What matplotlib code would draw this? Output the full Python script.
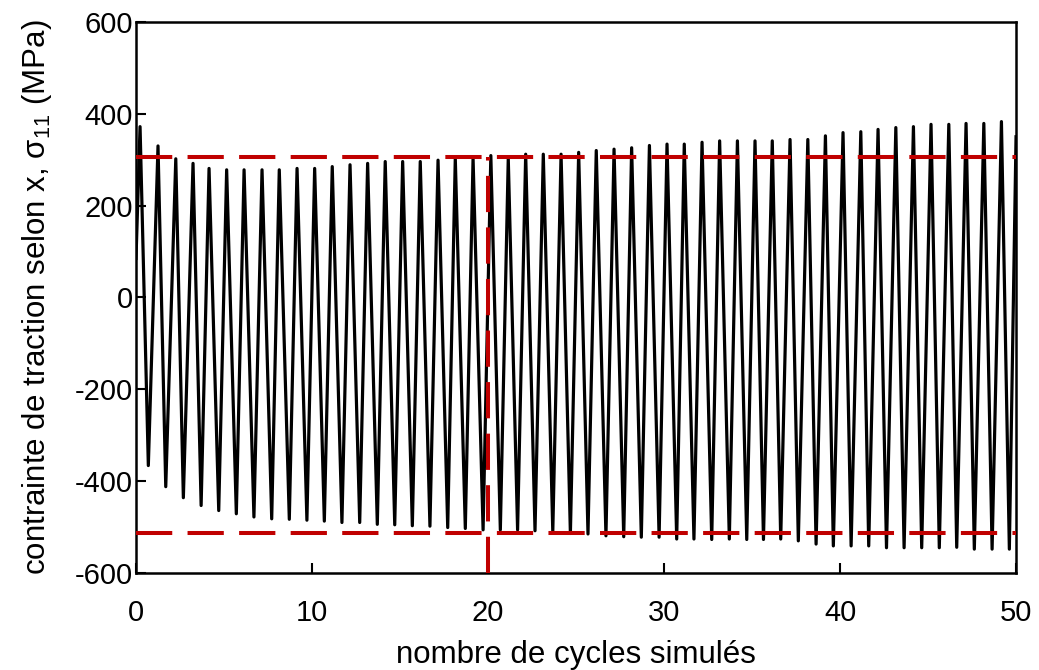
import numpy as np
import matplotlib
matplotlib.use("Agg")
import matplotlib.pyplot as plt

plt.rcParams['font.family'] = ['Liberation Sans', 'DejaVu Sans']
plt.rcParams['mathtext.fontset'] = 'custom'
plt.rcParams['mathtext.rm'] = 'Liberation Sans'
plt.rcParams['mathtext.it'] = 'Liberation Sans'
plt.rcParams['axes.unicode_minus'] = False

# valeurs : sommets et creux de chaque cycle
peak_x = [0.23, 1.25, 2.26, 3.24, 4.15, 5.15, 6.14, 7.16, 8.14, 9.15,
          10.15, 11.15, 12.16, 13.16, 14.16, 15.15, 16.15, 17.16, 18.14, 19.15,
          20.16, 21.15, 22.14, 23.14, 24.15, 25.15, 26.15, 27.16, 28.16, 29.17,
          30.17, 31.15, 32.16, 33.16, 34.17, 35.17, 36.15, 37.16, 38.17, 39.17,
          40.17, 41.18, 42.16, 43.17, 44.17, 45.17, 46.18, 47.16, 48.17, 49.17]
peak_val = [372, 330, 302, 292, 281, 278, 278, 278, 278, 281,
            281, 285, 289, 292, 296, 296, 296, 299, 303, 303,
            309, 303, 312, 312, 312, 316, 320, 323, 326, 331,
            334, 334, 338, 341, 341, 341, 341, 344, 344, 352,
            359, 361, 366, 370, 372, 377, 377, 379, 379, 383]
trough_x = [0.70, 1.69, 2.69, 3.70, 4.70, 5.70, 6.70, 7.71, 8.71, 9.71,
            10.70, 11.70, 12.71, 13.71, 14.70, 15.70, 16.70, 17.71, 18.71, 19.72,
            20.70, 21.68, 22.67, 23.68, 24.68, 25.68, 26.70, 27.71, 28.71, 29.72,
            30.72, 31.70, 32.71, 33.71, 34.70, 35.65, 36.63, 37.63, 38.64, 39.62,
            40.63, 41.63, 42.64, 43.64, 44.64, 45.64, 46.63, 47.63, 48.64, 49.62]
trough_val = [-366, -412, -436, -453, -464, -471, -478, -482, -483, -485,
              -487, -490, -490, -494, -495, -497, -498, -501, -503, -506,
              -506, -506, -508, -510, -514, -515, -519, -521, -522, -522,
              -526, -526, -527, -526, -527, -527, -526, -530, -537, -541,
              -541, -541, -545, -545, -545, -545, -544, -548, -548, -548]
start_point = (0.0, 85)
end_point = (50.0, 350)

# niveaux de reference (tirets rouges)
sig_max_ref = 305
sig_min_ref = -513
n_ref = 20

xs = [start_point[0]]
ys = [start_point[1]]
for px, pv, tx, tv in zip(peak_x, peak_val, trough_x, trough_val):
    xs += [px, tx]
    ys += [pv, tv]
xs.append(end_point[0])
ys.append(end_point[1])

fig = plt.figure(figsize=(10.39, 6.70), dpi=100)
ax = fig.add_axes([0.1309, 0.1448, 0.8470, 0.8224])

ax.plot(xs, ys, color='black', lw=2.3, solid_joinstyle='round', zorder=2)

red = '#C00000'
dash = (9, 3.8)
ax.plot([0, 50], [sig_max_ref, sig_max_ref], color=red, lw=2.9, dashes=dash, zorder=3)
ax.plot([0, 50], [sig_min_ref, sig_min_ref], color=red, lw=2.9, dashes=dash, zorder=3)
ax.plot([n_ref, n_ref], [-600, sig_max_ref], color=red, lw=2.9, dashes=dash, zorder=3)

ax.set_xlim(0, 50)
ax.set_ylim(-600, 600)
ax.set_xticks([0, 10, 20, 30, 40, 50])
ax.set_yticks([-600, -400, -200, 0, 200, 400, 600])
ax.tick_params(direction='in', length=7, width=1.5, labelsize=21)
ax.tick_params(axis='y', pad=2)
ax.tick_params(axis='x', pad=19)
for s in ax.spines.values():
    s.set_linewidth(1.8)

ax.set_xlabel('nombre de cycles simulés', fontsize=22.5, labelpad=9)
ax.set_ylabel('contrainte de traction selon x, σ$_{11}$ (MPa)', fontsize=22.5, labelpad=15)

fig.savefig('out.png', dpi=100)
